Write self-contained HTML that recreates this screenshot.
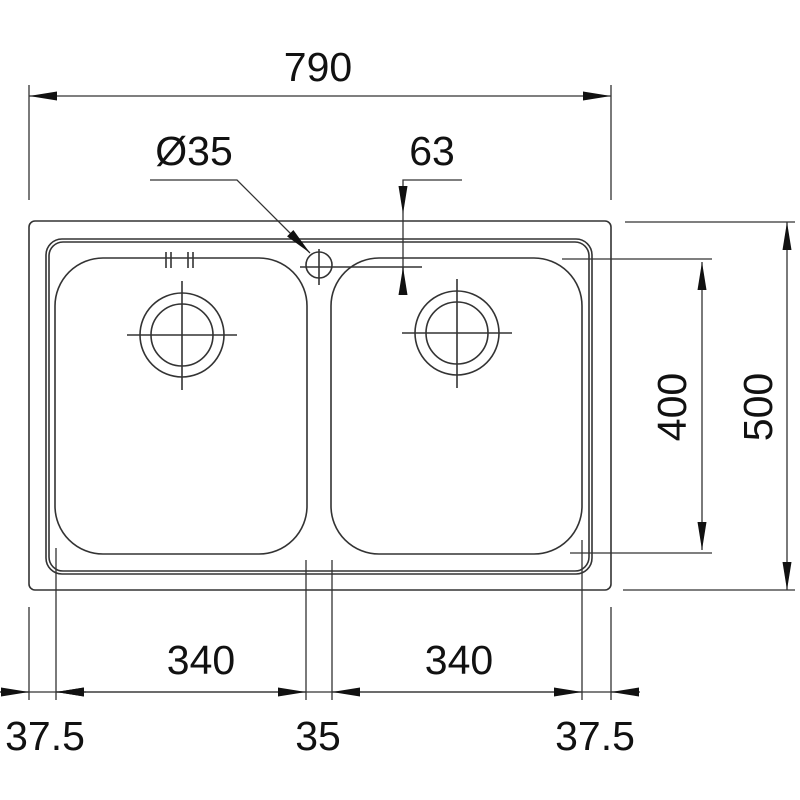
<!DOCTYPE html>
<html><head><style>
html,body{margin:0;padding:0;background:#fff;}
svg{display:block;}
text{font-family:"Liberation Sans",sans-serif;font-size:41px;fill:#111;text-anchor:middle;}
</style></head><body>
<svg width="800" height="800" viewBox="0 0 800 800" xmlns="http://www.w3.org/2000/svg">
<defs>
<marker id="a" viewBox="0 0 10 10" refX="10" refY="5" markerWidth="28" markerHeight="9" markerUnits="userSpaceOnUse" orient="auto-start-reverse" preserveAspectRatio="none"><path d="M0,0 L10,5 L0,10 z" fill="#111"/></marker>
</defs>
<g fill="none" stroke="#333" stroke-width="1.6">
<rect x="29" y="221" width="582" height="369" rx="6"/>
<rect x="46" y="239" width="546" height="335" rx="16"/>
<rect x="49" y="242" width="540" height="329" rx="14"/>
<rect x="55" y="258" width="252" height="296" rx="48"/>
<rect x="331" y="258" width="251" height="296" rx="48"/>
<circle cx="182" cy="335" r="42"/><circle cx="182" cy="335" r="31"/>
<line x1="127" y1="335" x2="237" y2="335"/><line x1="182" y1="281" x2="182" y2="390"/>
<circle cx="457" cy="333" r="42"/><circle cx="457" cy="333" r="31"/>
<line x1="402" y1="333" x2="512" y2="333"/><line x1="457" y1="279" x2="457" y2="388"/>
<line x1="166" y1="252" x2="166" y2="268"/><line x1="171" y1="252" x2="171" y2="268"/>
<line x1="188" y1="252" x2="188" y2="268"/><line x1="193" y1="252" x2="193" y2="268"/>
<circle cx="319" cy="265" r="13"/>
<line x1="300" y1="267" x2="422" y2="267"/><line x1="319" y1="249" x2="319" y2="285"/>
</g>
<g fill="none" stroke="#333" stroke-width="1.3">
<line x1="29" y1="85" x2="29" y2="200"/><line x1="611" y1="85" x2="611" y2="200"/>
<line x1="29" y1="96" x2="611" y2="96" marker-start="url(#a)" marker-end="url(#a)"/>
<polyline points="150,180 237,180 310,253" marker-end="url(#a)"/>
<polyline points="462,180 403,180 403,214" marker-end="url(#a)"/>
<line x1="403" y1="214" x2="403" y2="295"/>
<line x1="403" y1="295" x2="403" y2="267" marker-end="url(#a)"/>
<line x1="562" y1="259" x2="712" y2="259"/><line x1="570" y1="553" x2="712" y2="553"/>
<line x1="702" y1="262" x2="702" y2="550" marker-start="url(#a)" marker-end="url(#a)"/>
<line x1="625" y1="222" x2="795" y2="222"/><line x1="623" y1="590" x2="795" y2="590"/>
<line x1="787" y1="222" x2="787" y2="590" marker-start="url(#a)" marker-end="url(#a)"/>
<line x1="29" y1="607" x2="29" y2="700"/>
<line x1="56" y1="548" x2="56" y2="700"/>
<line x1="306" y1="560" x2="306" y2="700"/>
<line x1="332" y1="560" x2="332" y2="700"/>
<line x1="582" y1="540" x2="582" y2="700"/>
<line x1="611" y1="607" x2="611" y2="700"/>
<line x1="0" y1="692" x2="638" y2="692"/>
<line x1="0" y1="692" x2="29" y2="692" marker-end="url(#a)"/>
<line x1="86" y1="692" x2="56" y2="692" marker-end="url(#a)"/>
<line x1="56" y1="692" x2="306" y2="692" marker-start="url(#a)" marker-end="url(#a)"/>
<line x1="332" y1="692" x2="582" y2="692" marker-start="url(#a)" marker-end="url(#a)"/>
<line x1="640" y1="692" x2="611" y2="692" marker-end="url(#a)"/>
</g>
<text x="318" y="81">790</text>
<text x="194" y="165">Ø35</text>
<text x="432" y="165">63</text>
<text x="201" y="674">340</text>
<text x="459" y="674">340</text>
<text x="45" y="750">37.5</text>
<text x="318" y="750">35</text>
<text x="595" y="750">37.5</text>
<text transform="translate(686,407) rotate(-90)">400</text>
<text transform="translate(772,407) rotate(-90)">500</text>
</svg>
</body></html>
